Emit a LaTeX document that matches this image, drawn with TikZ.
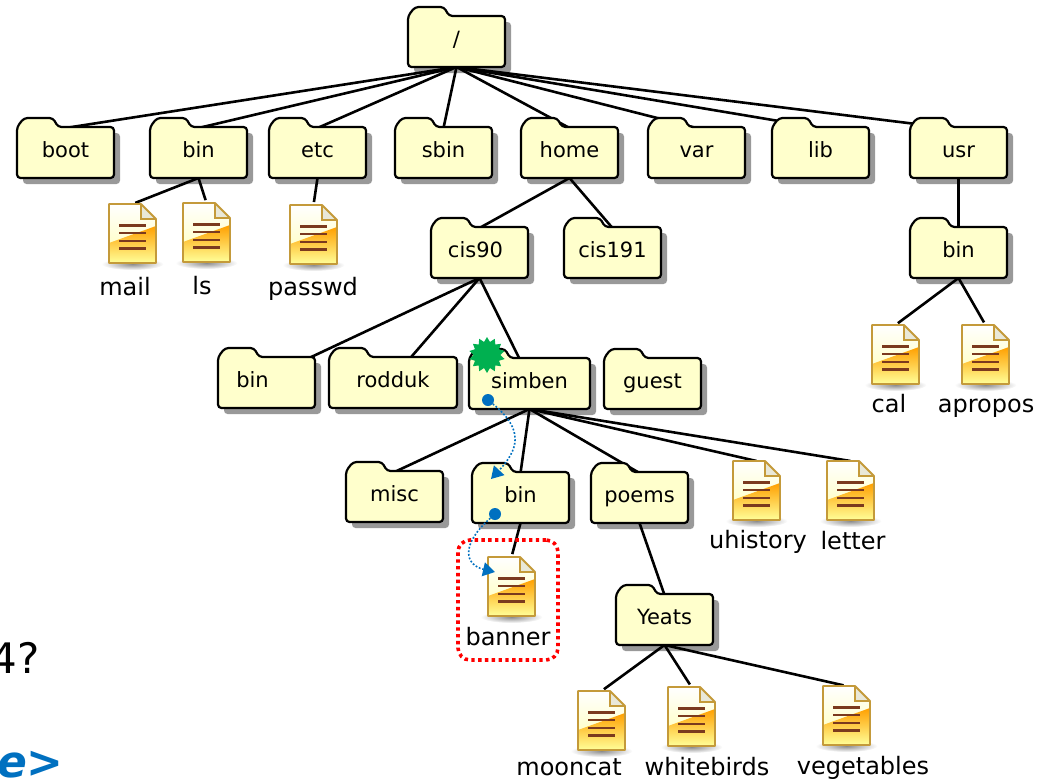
\documentclass[tikz,border=0pt]{standalone}
\usepackage{fontspec}
\setmainfont{DejaVu Sans}
\usepackage{xcolor}
\usepackage{tikz}
\usetikzlibrary{arrows.meta,positioning,shapes.geometric,calc}
\definecolor{folderfill}{HTML}{FFFFCC}
\definecolor{shadowgray}{HTML}{999999}
\definecolor{filegold}{HTML}{C49A3A}
\definecolor{filebrown}{HTML}{7B3A1E}
\definecolor{noteblue}{HTML}{0070C0}
\definecolor{stargreen}{HTML}{00B050}
\pgfdeclarelayer{shadowlayer}
\pgfdeclarelayer{linklayer}
\pgfsetlayers{shadowlayer,linklayer,main}
\tikzset{
    folderline/.style={draw=black,line width=2.2pt,fill=folderfill,rounded corners=3.5pt},
    foldershadow/.style={fill=shadowgray,rounded corners=3.5pt},
    foldertext/.style={font=\fontsize{21}{24}\selectfont,inner sep=0pt,anchor=base},
    filetext/.style={font=\fontsize{24}{28}\selectfont,inner sep=0pt,anchor=base},
    anchorbox/.style={inner sep=0pt,outer sep=0pt},
    link/.style={line width=2.6pt,black},
    hop/.style={noteblue,line width=1.6pt,dash pattern=on 1.8pt off 1.8pt,-{Triangle[width=14pt,length=12pt]}},
    hopdot/.style={circle,fill=noteblue,inner sep=0pt,minimum size=12pt},
}
% folder outline, local origin at its top left
\newcommand{\folderpath}[1]{(0,60) -- (0,9) -- (7,0) -- (36,0) -- (41,9) -- (#1,9) -- (#1,60) -- cycle}
% [text shift]{name}{x}{y}{width}{label}
\newcommand{\folder}[6][0]{%
    \begin{pgfonlayer}{shadowlayer}
        \fill[foldershadow,shift={(#3+6,#4+6)}] \folderpath{#5};
    \end{pgfonlayer}
    \draw[folderline,shift={(#3,#4)}] \folderpath{#5};
    \node[anchorbox,minimum width=#5pt,minimum height=60pt] (#2) at (#3+#5/2,#4+30) {};
    \node[foldertext] (#2text) at ($(#2.center)+(#1,9)$) {#6};
}
% {name}{x}{y}{label x}{label baseline}{label}
\newcommand{\fileicon}[6]{%
    \begin{scope}[shift={(#2,#3)}]
        \shade[inner color=black!45,outer color=white,draw=none] (23.5,60) ellipse (31 and 6);
        \shade[top color=white,bottom color=yellow!30] (0,0) -- (32,0) -- (47,15) -- (47,59) -- (0,59) -- cycle;
        \shade[top color=orange!75!yellow,middle color=yellow!50,bottom color=yellow!40] (0,39) -- (47,22) -- (47,59) -- (0,59) -- cycle;
        \fill[yellow!8!white!90!black] (32,0) -- (32,15) -- (47,15) -- cycle;
        \draw[filegold,line width=1.8pt,line join=round] (0,0) -- (32,0) -- (47,15) -- (47,59) -- (0,59) -- cycle;
        \draw[filegold,line width=1.4pt] (32,0) -- (32,15) -- (47,15);
        \foreach \ly in {21.5,29.2,37,44.6}
            \draw[filebrown,line width=2.3pt] (10,\ly) -- (37,\ly);
    \end{scope}
    \node[anchorbox,minimum width=47pt,minimum height=59pt] (#1) at (#2+23.5,#3+29.5) {};
    \node[filetext] (#1text) at (#4,#5) {#6};
}

\begin{document}
\begin{tikzpicture}[x=1pt,y=-1pt]
    \useasboundingbox (0,0) rectangle (1048,779);

    % Folders
    \folder{root}{408}{7}{97}{/}
    \foreach \n/\x/\y/\w/\t in {boot/17/118/97/boot,rootbin/150/118/97/bin,etc/269/118/97/etc,
        sbin/395/118/97/sbin,home/521/118/97/home,var/648/118/97/var,lib/772/118/97/lib,usr/910/118/97/usr,
        cisother/564/218/97/cis191,usrbin/910/218/97/bin,
        rodduk/329/348/128/rodduk,simben/469/349/121/simben,guest/604/349/97/guest,
        misc/346/462/97/misc,simbin/472/463/97/bin,poems/591/463/97/poems,yeats/616/585/97/Yeats}
        {\folder{\n}{\x}{\y}{\w}{\t}}
    \folder[-4]{cisninety}{431}{218}{97}{cis90}
    \folder[-14]{cisbin}{218}{348}{97}{bin}

    % Files
    \fileicon{mail}{109}{204}{125}{295}{mail}
    \fileicon{ls}{183}{203}{202}{294}{ls}
    \fileicon{passwd}{290}{205}{313}{295}{passwd}
    \fileicon{cal}{872}{325}{889}{412}{cal}
    \fileicon{apropos}{962}{325}{986}{412}{apropos}
    \fileicon{uhistory}{733}{461}{758}{548}{uhistory}
    \fileicon{letter}{827}{461}{853}{549}{letter}
    \fileicon{banner}{488}{557}{508}{645}{banner}
    \fileicon{mooncat}{578}{691}{569}{775}{mooncat}
    \fileicon{whitebirds}{668}{687}{707}{775}{whitebirds}
    \fileicon{vegetables}{823}{686}{863}{774}{vegetables}

    % Tree lines
    \begin{pgfonlayer}{linklayer}
        \foreach \k in {boot,rootbin,etc,sbin,home,var,lib}
            \draw[link] (root.south) -- ($(\k.north)+(0,10)$);
        \draw[link] (root.south) -- ($(usr.north west)+(22,8)$);
        \foreach \k in {cisninety,cisother}
            \draw[link] (home.south) -- ($(\k.north)+(0,10)$);
        \foreach \k in {cisbin,rodduk,simben}
            \draw[link] (cisninety.south) -- (\k.center);
        \foreach \k in {misc,simbin,poems}
            \draw[link] (simben.south) -- ($(\k.north)+(0,10)$);
        \foreach \k in {uhistory,letter}
            \draw[link] (simben.south) -- (\k.north);
        \foreach \k in {mooncat,whitebirds,vegetables}
            \draw[link,shorten >=3pt] (yeats.south) -- (\k.north);
        \foreach \k in {mail,ls}
            \draw[link,shorten >=3pt] (rootbin.south) -- (\k.north);
        \foreach \k in {cal,apropos}
            \draw[link,shorten >=3pt] (usrbin.south) -- (\k.north);
        \draw[link,shorten >=3pt] (etc.south) -- (passwd.north);
        \draw[link] (usr.south) -- ($(usrbin.north)+(0,10)$);
        \draw[link,shorten >=3pt] (simbin.south) -- (banner.north);
        \draw[link] (poems.south) -- ($(yeats.north)+(0,10)$);
    \end{pgfonlayer}

    % Marks on top
    \node[star,star points=14,star point ratio=1.35,fill=stargreen,inner sep=0pt,minimum size=36pt] (here) at (487,355) {};
    \node[hopdot] (dotone) at (488,400) {};
    \node[hopdot] (dottwo) at (495,514) {};
    \coordinate (endone) at (491,479);
    \coordinate (endtwo) at (495,572);
    \draw[hop] (dotone) .. controls (525,430) and (518,450) .. (endone);
    \draw[hop] (dottwo) .. controls (460,545) and (465,565) .. (endtwo);
    \node[draw=red,line width=3.6pt,dash pattern=on 3.4pt off 3.4pt,rounded corners=12pt,minimum width=100pt,minimum height=120pt,inner sep=0pt] (pick) at (508,600) {};

    % Cut off slide text
    \node[anchor=east,inner sep=0pt,font=\fontsize{42}{48}\selectfont] (question) at (40,658) {4?};
    \node[anchor=base east,inner sep=0pt,text=noteblue,font=\fontsize{44}{50}\selectfont\bfseries\itshape] (prompt) at (64,777) {e>};
\end{tikzpicture}
\end{document}
